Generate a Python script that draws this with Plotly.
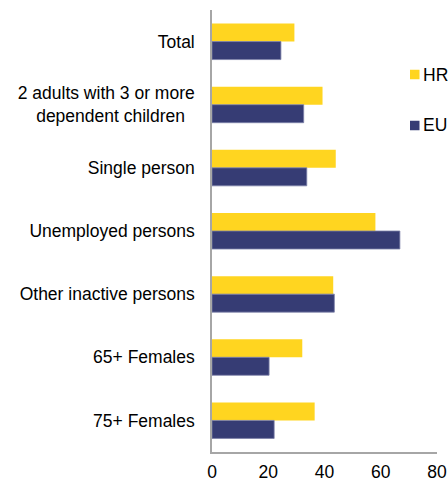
import plotly.graph_objects as go

categories = [
    "Total",
    "2 adults with 3 or more<br>dependent children&#160;&#160;",
    "Single person",
    "Unemployed persons",
    "Other inactive persons",
    "65+ Females",
    "75+ Females",
]
hr_values = [29.3, 39.3, 44.0, 58.1, 43.1, 32.1, 36.5]
eu_values = [24.5, 32.6, 33.7, 66.8, 43.5, 20.3, 22.1]
x_ticks = [0, 20, 40, 60, 80]

HR_COLOR = "#FFD520"
EU_COLOR = "#363C74"
FONT = "Liberation Sans, Arial, sans-serif"
FS = 17.5

fig = go.Figure()
fig.add_trace(go.Bar(y=categories, x=hr_values, name="HR", orientation="h",
                     marker=dict(color=HR_COLOR, line=dict(width=0))))
fig.add_trace(go.Bar(y=categories, x=eu_values, name="EU", orientation="h",
                     marker=dict(color=EU_COLOR, line=dict(width=0.8, color="#7C80A8"))))

W, H = 448, 481
ml, mr, mt, mb = 212, 11, 10, 29
pw = W - ml - mr
ph = H - mt - mb

def px_x(p):
    return (p - ml) / pw

def px_y(p):
    return 1 - (p - mt) / ph

shapes = []
annotations = []
for name, color, cy in [("HR", HR_COLOR, 74.5), ("EU", EU_COLOR, 125.5)]:
    shapes.append(dict(type="rect", xref="paper", yref="paper",
                       x0=px_x(410), x1=px_x(419.5), y0=px_y(cy + 4.75), y1=px_y(cy - 4.75),
                       fillcolor=color, line=dict(width=0)))
    annotations.append(dict(xref="paper", yref="paper", x=px_x(421), y=px_y(cy),
                            xanchor="left", yanchor="middle", text=name, showarrow=False,
                            font=dict(size=FS, color="#000000", family=FONT)))

fig.update_layout(
    width=W, height=H,
    margin=dict(l=ml, r=mr, t=mt, b=mb, autoexpand=False),
    paper_bgcolor="white", plot_bgcolor="white",
    barmode="group", bargap=0.43, bargroupgap=0,
    showlegend=False,
    font=dict(family=FONT, size=FS, color="#000000"),
    shapes=shapes, annotations=annotations,
    xaxis=dict(range=[0, 80], tickvals=x_ticks, showgrid=False, zeroline=False,
               showline=True, linecolor="#A6A6A6", linewidth=1.5, ticks="",
               automargin=False, ticklabelstandoff=3, tickfont=dict(size=FS)),
    yaxis=dict(autorange="reversed", showgrid=False, zeroline=False,
               showline=True, linecolor="#A6A6A6", linewidth=1.5, ticks="",
               automargin=False, ticklabelstandoff=12, tickfont=dict(size=FS)),
)

fig.write_html("out.html", config={"displayModeBar": False},
               post_script="document.body.style.margin='0';document.body.style.overflow='hidden';")
